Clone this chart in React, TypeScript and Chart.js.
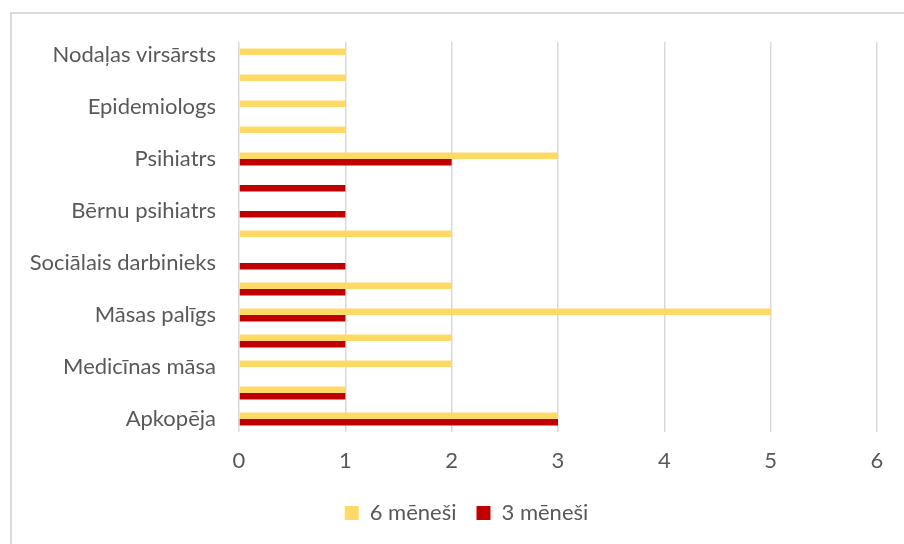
import React, { useEffect, useRef } from "react";
import { Chart, registerables } from "chart.js";

Chart.register(...registerables);

const categories: string[] = [
  "Nodaļas virsārsts",
  "",
  "Epidemiologs",
  "",
  "Psihiatrs",
  "",
  "Bērnu psihiatrs",
  "",
  "Sociālais darbinieks",
  "",
  "Māsas palīgs",
  "",
  "Medicīnas māsa",
  "",
  "Apkopēja",
];

const sixMonths: (number | null)[] = [1, 1, 1, 1, 3, null, null, 2, null, 2, 5, 2, 2, 1, 3];
const threeMonths: (number | null)[] = [null, null, null, null, 2, 1, 1, null, 1, 1, 1, 1, null, 1, 3];

const xTicks: number[] = [0, 1, 2, 3, 4, 5, 6];

const FONT = "Lato, 'Open Sans', sans-serif";
const TEXT = "#595959";

const legendShift = {
  id: "legendShift",
  afterLayout(chart: any) {
    const lg = chart.legend;
    if (lg) {
      lg.left += 28;
      lg.right += 28;
    }
  },
};

export default function App() {
  const ref = useRef<HTMLCanvasElement | null>(null);

  useEffect(() => {
    if (!ref.current) return;
    const chart = new Chart(ref.current, {
      type: "bar",
      data: {
        labels: categories,
        datasets: [
          {
            label: "6 mēneši",
            data: sixMonths,
            backgroundColor: "#FFD966",
            borderWidth: 0,
            categoryPercentage: 0.5,
            barPercentage: 1,
          },
          {
            label: "3 mēneši",
            data: threeMonths,
            backgroundColor: "#C00000",
            borderWidth: 0,
            categoryPercentage: 0.5,
            barPercentage: 1,
          },
        ],
      },
      plugins: [legendShift],
      options: {
        indexAxis: "y",
        animation: false,
        responsive: false,
        maintainAspectRatio: false,
        layout: { padding: { left: 0, right: 27, top: 42, bottom: 10 } },
        plugins: {
          tooltip: { enabled: false },
          legend: {
            position: "bottom",
            labels: {
              boxWidth: 14,
              boxHeight: 14,
              padding: 20,
              color: TEXT,
              font: { family: FONT, size: 22 },
            },
          },
        },
        scales: {
          x: {
            min: 0,
            max: 6,
            afterBuildTicks: (scale: any) => {
              scale.ticks = xTicks.map((v) => ({ value: v }));
            },
            afterFit: (scale: any) => {
              scale.height = 50;
            },
            grid: { color: "#d9d9d9", lineWidth: 1.5, drawTicks: false },
            border: { display: false },
            ticks: {
              color: TEXT,
              padding: 16,
              font: { family: FONT, size: 22 },
            },
          },
          y: {
            afterFit: (scale: any) => {
              scale.width = 239;
            },
            grid: { display: false, drawTicks: false },
            border: { display: false },
            ticks: {
              autoSkip: false,
              color: TEXT,
              padding: 23,
              font: { family: FONT, size: 22 },
            },
          },
        },
      },
    });
    return () => chart.destroy();
  }, []);

  return (
    <div
      style={{
        position: "fixed",
        left: 0,
        top: 0,
        width: 904,
        height: 544,
        overflow: "hidden",
        background: "#fff",
      }}
    >
      <div
        style={{
          position: "absolute",
          left: 10,
          top: 12,
          width: 1000,
          height: 1000,
          border: "2px solid #d9d9d9",
        }}
      />
      <canvas
        ref={ref}
        width={904}
        height={544}
        style={{ position: "absolute", left: 0, top: 0 }}
      />
    </div>
  );
}
